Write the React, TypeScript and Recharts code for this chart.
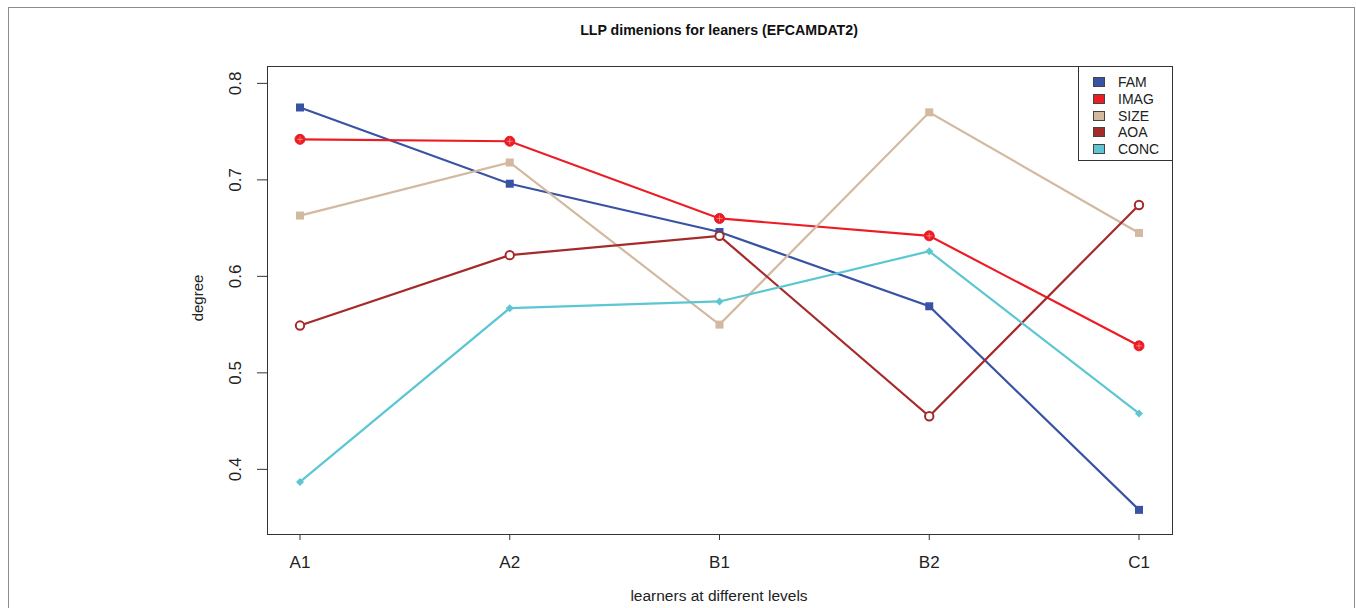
import React from "react";
import { LineChart, Line, XAxis, YAxis } from "recharts";

const levels = ["A1", "A2", "B1", "B2", "C1"];
const fam = [0.775, 0.696, 0.646, 0.569, 0.358];
const imag = [0.742, 0.740, 0.660, 0.642, 0.528];
const size = [0.663, 0.718, 0.550, 0.770, 0.645];
const aoa = [0.549, 0.622, 0.642, 0.455, 0.674];
const conc = [0.387, 0.567, 0.574, 0.626, 0.458];
const yTicks = [0.4, 0.5, 0.6, 0.7, 0.8];

const seriesNames = ["FAM", "IMAG", "SIZE", "AOA", "CONC"];
const seriesValues = [fam, imag, size, aoa, conc];
const seriesColors = ["#3953A4", "#ED1C24", "#D2B9A0", "#A52A2A", "#5CC7D2"];
const seriesMarks = ["square", "cross", "square", "ring", "diamond"];

const data = levels.map((lv, i) => {
    const row: any = { level: lv };
    seriesNames.forEach((n, k) => { row[n] = seriesValues[k][i]; });
    return row;
});

const FONT = "'Liberation Sans', Arial, Helvetica, sans-serif";

function makeDot(mark: string, color: string) {
    return (p: any) => {
        const { cx, cy, index } = p;
        if (cx == null || cy == null) return <g key={index} />;
        if (mark === "square")
            return <rect key={index} x={cx - 4} y={cy - 4} width={8} height={8} fill={color} />;
        if (mark === "cross")
            return (
                <g key={index}>
                    <circle cx={cx} cy={cy} r={5} fill={color} stroke={color} strokeWidth={1} />
                    <line x1={cx - 3} y1={cy} x2={cx + 3} y2={cy} stroke="#f6a0a0" strokeWidth={0.7} />
                    <line x1={cx} y1={cy - 3} x2={cx} y2={cy + 3} stroke="#f6a0a0" strokeWidth={0.7} />
                </g>
            );
        if (mark === "ring")
            return <circle key={index} cx={cx} cy={cy} r={4.2} fill="#fff" stroke={color} strokeWidth={2} />;
        return (
            <path key={index} d={`M${cx},${cy - 4}L${cx + 4},${cy}L${cx},${cy + 4}L${cx - 4},${cy}Z`} fill={color} />
        );
    };
}

const YTick = (p: any) => {
    const { x, y, payload } = p;
    const tx = x - 14;
    return (
        <text x={tx} y={y} transform={`rotate(-90, ${tx}, ${y})`} textAnchor="middle"
            fontSize={17} fontFamily={FONT} fill="#222">
            {Number(payload.value).toFixed(1)}
        </text>
    );
};

const XTick = (p: any) => {
    const { x, y, payload } = p;
    return (
        <text x={x} y={y + 26} textAnchor="middle" fontSize={17} fontFamily={FONT} fill="#222">
            {payload.value}
        </text>
    );
};

const LegendBox = () => (
    <div style={{
        position: "absolute", left: 1078, top: 66,
        border: "1px solid #333", width: 95, height: 95, boxSizing: "border-box",
        background: "#fff", paddingTop: 7, fontFamily: FONT, fontSize: 14, color: "#222",
    }}>
        {seriesNames.map((n, i) => (
            <div key={n} style={{ display: "flex", alignItems: "center", height: 16.7 }}>
                <span style={{
                    display: "inline-block", width: 10, height: 8, marginLeft: 14, marginRight: 13,
                    background: seriesColors[i], border: "1px solid #444",
                }} />
                <span>{n}</span>
            </div>
        ))}
    </div>
);

export default function App() {
    return (
        <div style={{ position: "absolute", left: 0, top: 0, width: 1356, height: 608, overflow: "hidden", background: "#fff" }}>
            <div style={{
                position: "absolute", left: 8, top: 7, width: 1347, height: 700,
                border: "1px solid #8c8c8c", boxSizing: "border-box",
            }} />
            <div style={{
                position: "absolute", left: 0, width: 1438, top: 22, textAlign: "center",
                fontFamily: FONT, fontWeight: "bold", fontSize: 14.2, color: "#111",
            }}>
                LLP dimenions for leaners (EFCAMDAT2)
            </div>
            <div style={{
                position: "absolute", left: 0, width: 1438, top: 587, textAlign: "center",
                fontFamily: FONT, fontSize: 15.5, color: "#222",
            }}>
                learners at different levels
            </div>
            <div style={{
                position: "absolute", left: 197, top: 298, transform: "translate(-50%, -50%) rotate(-90deg)",
                fontFamily: FONT, fontSize: 15, color: "#222", whiteSpace: "nowrap",
            }}>
                degree
            </div>
            <div style={{ position: "absolute", left: 0, top: 0 }}>
                <LineChart width={1356} height={608} data={data}
                    margin={{ top: 66, right: 184, bottom: 34, left: 227 }}>
                    <XAxis dataKey="level" height={40} padding={{ left: 33, right: 33 }}
                        axisLine={false} tickSize={6} tickLine={{ stroke: "#333" }} tick={<XTick />}
                        interval={0} />
                    <YAxis width={40} domain={[0.333, 0.818]} ticks={yTicks} allowDataOverflow
                        axisLine={false} tickSize={10} tickLine={{ stroke: "#333" }} tick={<YTick />} />
                    {seriesNames.map((n, i) => (
                        <Line key={n} dataKey={n} stroke={seriesColors[i]} strokeWidth={2.2}
                            dot={makeDot(seriesMarks[i], seriesColors[i])} activeDot={false}
                            isAnimationActive={false} />
                    ))}
                </LineChart>
            </div>
            <div style={{
                position: "absolute", left: 267, top: 66, width: 906, height: 469,
                border: "1px solid #333", boxSizing: "border-box", pointerEvents: "none",
            }} />
            <LegendBox />
        </div>
    );
}
